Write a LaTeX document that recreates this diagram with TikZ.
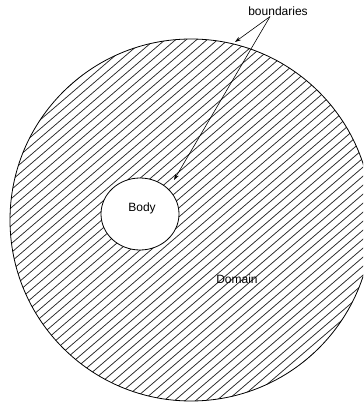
\documentclass[tikz,border=0pt]{standalone}
\usepackage{fontspec}
\setmainfont{Liberation Sans}
\usetikzlibrary{shapes.geometric,arrows.meta}
\tikzset{
    hatch/.style={line width=0.75pt, black!85},
    rim/.style={line width=0.8pt},
    lbl/.style={inner sep=1pt, font=\fontsize{12}{14}\selectfont},
    pointer/.style={-{Stealth[length=6pt,width=4pt]}, line width=0.6pt},
}
\begin{document}
\begin{tikzpicture}[x=1pt,y=-1pt]
                \useasboundingbox (0,0) rectangle (363,403);
                \clip (0,0) rectangle (363,403);
                \coordinate (domc) at (191,220);
                \begin{scope}
                    \clip (domc) circle [radius=181];
                    \foreach \a in {-520,-509.5,...,380}
                        \draw [hatch] (\a,420) -- ++(490,-420);
                \end{scope}
                \draw [rim] (domc) circle [radius=181];
                \node (body) [ellipse, draw, rim, fill=white, minimum width=78, minimum height=72, inner sep=0pt] at (140,214) {};
                \node [lbl] at (142,208) {Body};
                \node (dom) [lbl] at (237,279) {Domain};
                \node (bnd) [lbl] at (278,11) {boundaries};
                \coordinate (rimpt) at (235,42);
                \coordinate (bodypt) at (174,180);
                \draw [pointer] ([xshift=-8]bnd.south) -- (rimpt);
                \draw [pointer] ([xshift=-8]bnd.south) -- (bodypt);
            \end{tikzpicture}
\end{document}
